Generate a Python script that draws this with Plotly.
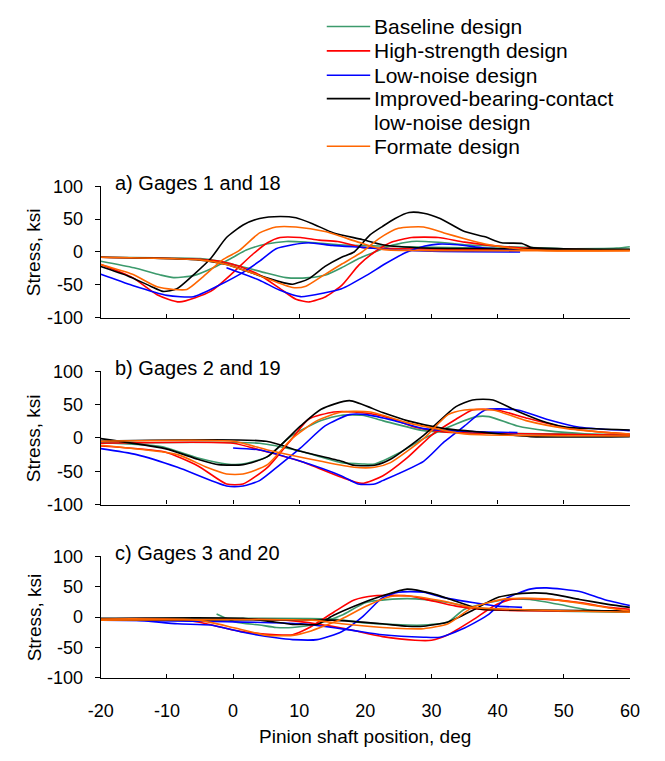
import plotly.graph_objects as go

# ---------------- data (x = pinion shaft position, deg ; y = stress, ksi) ----------------
DESIGNS = ["Baseline design", "High-strength design", "Low-noise design",
           "Improved-bearing-contact<br>low-noise design", "Formate design"]
COLORS = ["#3c9a6c", "#ff0000", "#0000ff", "#000000", "#ff6600"]
PANEL_LABELS = ["a) Gages 1 and 18", "b) Gages 2 and 19", "c) Gages 3 and 20"]
X_TICKS = [-20, -10, 0, 10, 20, 30, 40, 50, 60]
X_TICK_TEXT = ["-20", "-10", "0", "10", "20", "30", "40", "50", "60"]
Y_TICKS = [-100, -50, 0, 50, 100]
Y_TICK_TEXT = ["-100", "-50", "0", "50", "100"]

# Panel a
A_BASE_1_X = [-20, -15, -11, -9, -6, -3, 0, 2, 5, 8, 11, 16, 22, 30, 40, 50, 58, 60]
A_BASE_1_Y = [-14, -24, -35, -39, -36, -24, -8, 3, 12, 16, 15, 11, 9, 7, 6, 5, 6, 8]
A_BASE_2_X = [-20, -5, -2, 2, 5, 8, 11.5, 14, 16.4, 19, 21.4, 24, 27, 29, 32, 35, 42, 50, 60]
A_BASE_2_Y = [-8, -10, -14, -24, -32, -39, -39, -35, -24, -10, 0, 10, 16, 16, 14, 11, 8, 5, 4]
A_HIGH_1_X = [-20, -15.2, -11.5, -8.1, -3.4, -0.3, 2.8, 5.2, 7.1, 10.2, 13, 15.8, 19.5, 25, 40, 60]
A_HIGH_1_Y = [-19, -39, -65, -76, -60, -34, -5, 14, 22, 22, 18, 16, 7, 5, 4, 3]
A_HIGH_2_X = [-20, -5, -2, 1, 4, 7, 9.5, 11.5, 14, 16.5, 19, 21.4, 24, 27, 31, 35, 41, 47, 60]
A_HIGH_2_Y = [-8, -11, -14, -22, -35, -55, -72, -76, -68, -50, -20, 0, 15, 22, 22, 15, 8, 5, 3]
A_LOW_1_X = [-20, -15.2, -10, -6, -2.2, 1.5, 4, 6.5, 9, 11.4, 15, 19.5, 25, 30, 43.4]
A_LOW_1_Y = [-34, -51, -66, -68, -51, -31, -14, 5, 11, 14, 10, 7, 3, 1, 0]
A_LOW_2_X = [-1, 4, 7, 10.2, 13.9, 16.4, 20.1, 23, 26.3, 29, 31, 34, 38, 43.4]
A_LOW_2_Y = [-24, -43, -58, -68, -62, -56, -36, -18, 0, 9, 12, 11, 6, 3]
A_IMP_1_X = [-20, -16, -12.5, -10.6, -8.5, -5.9, -3.4, -1, 1.5, 4, 7.1, 9.5, 12, 15.2, 19.5, 22.6, 28.8, 40, 60]
A_IMP_1_Y = [-22, -36, -52, -60, -56, -34, -10, 22, 41, 51, 54, 52, 43, 29, 19, 11, 6, 5, 3]
A_IMP_2_X = [-20, -5.3, -1, 4, 7.7, 9, 11.4, 13.9, 16.4, 18.3, 20.7, 22.6, 24.5, 26.6, 28.8, 31.3, 35, 38.1, 40.6, 43.7, 45, 50, 60]
A_IMP_2_Y = [-8, -12, -19, -36, -47, -49, -41, -22, -8, 0, 26, 39, 51, 60, 59, 51, 31, 23, 14, 13, 7, 5, 4]
A_FORM_1_X = [-20, -15.2, -11.5, -9, -7, -4.7, -1.6, 0.9, 4, 6.5, 9.5, 13.9, 18.9, 22.6, 30, 60]
A_FORM_1_Y = [-19, -34, -53, -57, -57, -39, -12, 2, 29, 38, 38, 31, 15, 4, 2, 2]
A_FORM_2_X = [-20, -5, -1, 4, 9, 11, 13.9, 16.5, 19.5, 22, 25, 28.8, 31.9, 35, 38.1, 42, 47.4, 60]
A_FORM_2_Y = [-8, -12, -19, -36, -54, -52, -34, -18, 0, 20, 36, 38, 29, 20, 12, 6, 2, 2]

# Panel b
B_BASE_1_X = [-20, -10.9, -5.3, -1, 1.5, 5.2, 8.9, 13.3, 16.4, 19.5, 22.6, 28.8, 35, 60]
B_BASE_1_Y = [-7, -13, -30, -39, -39, -28, 4, 26, 34, 34, 26, 11, 8, 5]
B_BASE_2_X = [-20, 4, 10.2, 16.4, 19.5, 21.4, 25, 28.8, 33.7, 36.8, 38.7, 43, 47.4, 53.6, 60]
B_BASE_2_Y = [-8, -8, -20, -37, -39, -39, -23, -1, 21, 32, 32, 18, 11, 6, 4]
B_HIGH_1_X = [-20, -10.3, -5.3, -1, 1.5, 5.2, 8.9, 11.4, 15.2, 18.3, 22.6, 27.6, 31.9, 40, 60]
B_HIGH_1_Y = [-12, -21, -42, -69, -69, -44, -1, 28, 39, 39, 33, 16, 9, 7, 4]
B_HIGH_2_X = [-20, 0, 4, 10.2, 16.4, 19.5, 22.6, 26.3, 30, 33.7, 36.2, 39.9, 44.3, 50.5, 56.7, 60]
B_HIGH_2_Y = [-8, -8, -18, -35, -59, -68, -57, -30, 4, 28, 42, 42, 30, 15, 8, 6]
B_LOW_1_X = [-20, -14.6, -8.4, -1, 1.5, 4, 7.1, 10.2, 13.9, 17.6, 20.1, 24.4, 28.8, 35, 43]
B_LOW_1_Y = [-16, -25, -44, -72, -72, -64, -40, -15, 18, 35, 35, 26, 14, 10, 8]
B_LOW_2_X = [0, 4, 10.2, 16.4, 18.9, 21.4, 22.6, 28.8, 31.9, 35, 38.1, 43, 47.4, 52.4, 60]
B_LOW_2_Y = [-15, -18, -35, -57, -69, -69, -64, -35, -6, 18, 42, 42, 28, 16, 11]
B_IMP_1_X = [-20, -10.3, -5.3, -2.2, 1.5, 5.2, 10.2, 13.3, 17.6, 22.6, 26.3, 31.9, 36.2, 45, 60]
B_IMP_1_Y = [-1, -16, -32, -40, -40, -28, 18, 43, 56, 38, 26, 14, 10, 2, 2]
B_IMP_2_X = [-20, 5, 10.2, 16.4, 18.3, 21.4, 23.8, 28.8, 33.7, 36.2, 39.3, 43, 47.4, 50.5, 60]
B_IMP_2_Y = [-5, -5, -20, -35, -41, -41, -32, 4, 47, 57, 57, 40, 23, 16, 12]
B_FORM_1_X = [-20, -8.4, -4, -1, 1.5, 5.2, 8.9, 12.7, 16.4, 20.7, 22.6, 26.3, 30.6, 35, 60]
B_FORM_1_Y = [-11, -25, -44, -54, -54, -40, -1, 26, 39, 39, 34, 23, 14, 6, 3]
B_FORM_2_X = [-20, 0, 5.2, 13.3, 18.3, 21.4, 23.8, 28.8, 32.5, 35, 39.3, 44.3, 50.5, 56.7, 60]
B_FORM_2_Y = [-5, -5, -18, -35, -44, -44, -37, -1, 35, 42, 42, 26, 14, 8, 6]

# Panel c
C_BASE_1_X = [-2.5, 0.3, 4, 6.5, 9, 12.7, 16.4, 20.1, 25, 27.6, 32.5, 36.2, 41.2, 60]
C_BASE_1_Y = [5, -8, -13, -17, -17, -11, 3, 24, 30, 30, 24, 16, 12, 8]
C_BASE_2_X = [-20, 15, 19.5, 26.3, 28.8, 32.5, 35, 41.2, 44.9, 49.2, 53.6, 60]
C_BASE_2_Y = [-3, -3, -9, -13, -13, -8, 13, 29, 29, 21, 12, 9]
C_HIGH_1_X = [-20, -10, -5.3, 0.9, 6.5, 9, 11.4, 15.2, 18.3, 21.4, 26.3, 28.8, 33.7, 38.1, 60]
C_HIGH_1_Y = [-3, -3, -8, -23, -29, -29, -18, 8, 28, 35, 35, 30, 18, 12, 10]
C_HIGH_2_X = [-20, 8, 16.4, 22.6, 27.5, 30, 32.5, 36.2, 39.9, 42.5, 46.2, 52.4, 56.7, 60]
C_HIGH_2_Y = [-5, -5, -18, -32, -38, -38, -29, -5, 21, 30, 30, 24, 16, 13]
C_LOW_1_X = [-20, -14.6, -8.4, -3.4, 1.5, 6.5, 9, 12.7, 16.4, 19.5, 22.6, 25, 28.8, 31.9, 36.2, 39.9, 43.7]
C_LOW_1_Y = [-4, -5, -11, -13, -25, -34, -37, -37, -24, 0, 32, 41, 41, 32, 24, 18, 16]
C_LOW_2_X = [-20, 10.2, 17.6, 22.6, 28.8, 31.3, 35, 38.7, 41.2, 44.9, 47.4, 52.4, 56.1, 60]
C_LOW_2_Y = [-5, -11, -21, -29, -33, -33, -18, 5, 30, 46, 48, 42, 29, 19]
C_IMP_1_X = [-20, 1.5, 9, 10.2, 12.7, 15.2, 18.3, 22.6, 26.3, 30, 33.7, 37.5, 41.2, 60]
C_IMP_1_Y = [-2, -2, -12, -12, -12, 3, 18, 35, 46, 39, 26, 13, 12, 10]
C_IMP_2_X = [-20, 15, 22.6, 26.3, 28.8, 32.5, 36.2, 39.9, 43.7, 47.4, 52.4, 56.7, 60]
C_IMP_2_Y = [-5, -5, -11, -15, -15, -8, 11, 32, 39, 39, 29, 21, 16]
C_FORM_1_X = [-20, -5.3, 0.3, 5.2, 9, 11.4, 16.4, 20.1, 23.8, 27.6, 31.9, 36.2, 60]
C_FORM_1_Y = [-3, -5, -18, -30, -30, -24, -3, 18, 34, 34, 26, 16, 8]
C_FORM_2_X = [-20, 12, 16.4, 22.6, 26.3, 28.8, 32.5, 36.2, 41.2, 47.4, 53.6, 58, 60]
C_FORM_2_Y = [-5, -5, -11, -17, -19, -19, -11, 16, 30, 30, 21, 13, 10]

PANELS = [
    [(A_BASE_1_X, A_BASE_1_Y, A_BASE_2_X, A_BASE_2_Y),
     (A_HIGH_1_X, A_HIGH_1_Y, A_HIGH_2_X, A_HIGH_2_Y),
     (A_LOW_1_X, A_LOW_1_Y, A_LOW_2_X, A_LOW_2_Y),
     (A_IMP_1_X, A_IMP_1_Y, A_IMP_2_X, A_IMP_2_Y),
     (A_FORM_1_X, A_FORM_1_Y, A_FORM_2_X, A_FORM_2_Y)],
    [(B_BASE_1_X, B_BASE_1_Y, B_BASE_2_X, B_BASE_2_Y),
     (B_HIGH_1_X, B_HIGH_1_Y, B_HIGH_2_X, B_HIGH_2_Y),
     (B_LOW_1_X, B_LOW_1_Y, B_LOW_2_X, B_LOW_2_Y),
     (B_IMP_1_X, B_IMP_1_Y, B_IMP_2_X, B_IMP_2_Y),
     (B_FORM_1_X, B_FORM_1_Y, B_FORM_2_X, B_FORM_2_Y)],
    [(C_BASE_1_X, C_BASE_1_Y, C_BASE_2_X, C_BASE_2_Y),
     (C_HIGH_1_X, C_HIGH_1_Y, C_HIGH_2_X, C_HIGH_2_Y),
     (C_LOW_1_X, C_LOW_1_Y, C_LOW_2_X, C_LOW_2_Y),
     (C_IMP_1_X, C_IMP_1_Y, C_IMP_2_X, C_IMP_2_Y),
     (C_FORM_1_X, C_FORM_1_Y, C_FORM_2_X, C_FORM_2_Y)],
]

# ---------------- figure ----------------
W, H = 665, 761
FONT = "Liberation Sans, Arial, sans-serif"
X_DOM = [91 / W, 639 / W]
Y_DOMS = [(181, 316), (371, 508), (561, 686)]  # pixel top/bottom of each panel


def yd(top, bot):
    return [1 - bot / H, 1 - top / H]


fig = go.Figure()
for p, panel in enumerate(PANELS):
    xa = "x" if p == 0 else f"x{p+1}"
    ya = "y" if p == 0 else f"y{p+1}"
    for d, (x1, y1, x2, y2) in enumerate(panel):
        for k, (xs, ys) in enumerate([(x1, y1), (x2, y2)]):
            fig.add_trace(go.Scatter(
                x=xs, y=ys, mode="lines", xaxis=xa, yaxis=ya,
                line=dict(color=COLORS[d], width=1.6, shape="spline", smoothing=0.6),
                name=DESIGNS[d].replace("<br>", " "), showlegend=False, hoverinfo="skip",
            ))

layout = dict(
    width=W, height=H, margin=dict(l=0, r=0, t=0, b=0),
    paper_bgcolor="white", plot_bgcolor="white",
    font=dict(family=FONT, size=18, color="black"),
    showlegend=False,
)
annotations = []
shapes = []
for p in range(3):
    xk = "xaxis" if p == 0 else f"xaxis{p+1}"
    yk = "yaxis" if p == 0 else f"yaxis{p+1}"
    top, bot = Y_DOMS[p]
    layout[xk] = dict(
        domain=X_DOM, range=[-20, 60], tickvals=X_TICKS, ticktext=X_TICK_TEXT,
        showticklabels=(p == 2), ticks="inside", ticklen=4, tickwidth=1, tickcolor="black",
        showline=True, linecolor="black", linewidth=1.3, showgrid=False, zeroline=False,
        anchor="y" if p == 0 else f"y{p+1}", tickfont=dict(size=18),
        ticklabelstandoff=16,
    )
    layout[yk] = dict(
        domain=yd(top, bot), range=[-100, 100], tickvals=Y_TICKS, ticktext=Y_TICK_TEXT,
        ticks="outside", ticklen=5, tickwidth=1, tickcolor="black",
        showline=True, linecolor="black", linewidth=1.3, showgrid=False, zeroline=False,
        anchor="x" if p == 0 else f"x{p+1}", tickfont=dict(size=18),
        ticklabelstandoff=8,
    )
    annotations.append(dict(
        text="Stress, ksi", textangle=-90, x=22 / W, y=1 - (top + bot) / 2 / H,
        xref="paper", yref="paper", showarrow=False, font=dict(size=19),
        xanchor="center", yanchor="middle"))
    annotations.append(dict(
        text=PANEL_LABELS[p], x=104 / W, y=1 - (top - 3) / H,
        xref="paper", yref="paper", showarrow=False, font=dict(size=20),
        xanchor="left", yanchor="middle"))
annotations.append(dict(
    text="Pinion shaft position, deg", x=365 / W, y=1 - 746 / H,
    xref="paper", yref="paper", showarrow=False, font=dict(size=19),
    xanchor="center", yanchor="middle"))

# legend (drawn as key lines + text rows)
LEGEND_ROWS = [17, 42, 67, 91, 140]
for d, name in enumerate(DESIGNS):
    yy = 1 - LEGEND_ROWS[d] / H
    shapes.append(dict(type="line", xref="paper", yref="paper",
                       x0=325 / W, x1=370 / W, y0=yy, y1=yy,
                       line=dict(color=COLORS[d], width=1.6)))
    for j, part in enumerate(name.split("<br>")):
        annotations.append(dict(
            text=part, x=372 / W, y=1 - (LEGEND_ROWS[d] + 24.5 * j) / H,
            xref="paper", yref="paper", showarrow=False, font=dict(size=21),
            xanchor="left", yanchor="middle"))

layout["annotations"] = annotations
layout["shapes"] = shapes
fig.update_layout(**layout)
fig.write_html("out.html")
